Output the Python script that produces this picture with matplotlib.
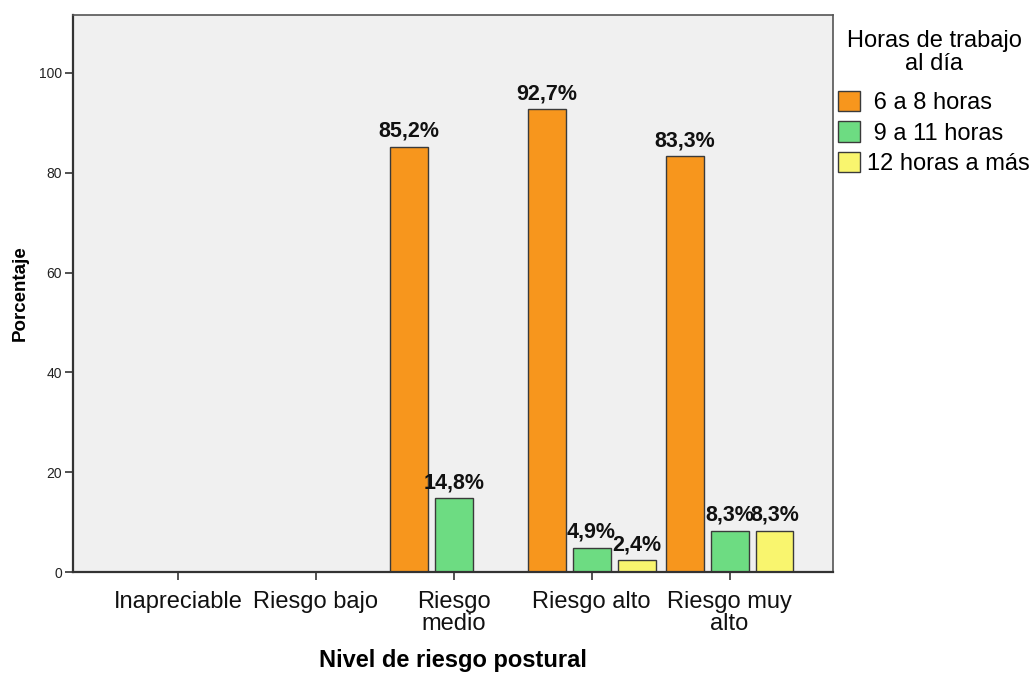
import numpy as np
import matplotlib
matplotlib.use("Agg")
import matplotlib.pyplot as plt

plt.rcParams['font.family'] = ['Liberation Sans', 'DejaVu Sans']

# niveles de riesgo y porcentajes por horas de trabajo
categorias = ['Inapreciable', 'Riesgo bajo', 'Riesgo\nmedio', 'Riesgo alto', 'Riesgo muy\nalto']
horas_6_8 = [0, 0, 85.2, 92.7, 83.3]
horas_9_11 = [0, 0, 14.8, 4.9, 8.3]
horas_12 = [0, 0, 0, 2.4, 8.3]
series = [' 6 a 8 horas', ' 9 a 11 horas', '12 horas a más']
colores = ['#f7961d', '#6ddc82', '#f9f56e']

fig = plt.figure(figsize=(10.34, 6.73), dpi=100)
ax = fig.add_axes([0.0706, 0.150, 0.7350, 0.8277])
ax.set_facecolor('#f0f0f0')

x = np.arange(len(categorias))
ancho = 0.275
desplaz = 0.326
for i, (vals, nombre, col) in enumerate(zip([horas_6_8, horas_9_11, horas_12], series, colores)):
    pos = x + (i - 1) * desplaz
    ax.bar(pos, vals, width=ancho, color=col, edgecolor='#3a3a3a', linewidth=1.0, label=nombre)
    for xp, v in zip(pos, vals):
        if v > 0:
            ax.text(xp, v + 1.0, f'{v:.1f}%'.replace('.', ','), ha='center', va='bottom',
                    fontsize=15.5, fontweight='bold', color='#111111')

ax.set_xlim(-0.76, 4.75)
ax.set_ylim(0, 111.6)
ax.set_yticks([0, 20, 40, 60, 80, 100])
ax.set_xticks(x)
ax.set_xticklabels(categorias, fontsize=17, linespacing=1.0)
ax.tick_params(axis='y', labelsize=10, length=6, width=1.2, color='#333333', labelcolor='#222222', pad=2)
ax.tick_params(axis='x', length=6, width=1.2, color='#333333', labelcolor='#111111', pad=8)

for s in ax.spines.values():
    s.set_color('#555555')
    s.set_linewidth(1.2)
ax.spines['left'].set_color('#333333')
ax.spines['bottom'].set_color('#333333')
ax.spines['left'].set_linewidth(1.6)
ax.spines['bottom'].set_linewidth(1.6)

ax.set_ylabel('Porcentaje', fontsize=13.5, fontweight='bold', labelpad=7)
ax.set_xlabel('Nivel de riesgo postural', fontsize=17, fontweight='bold', labelpad=10)

# título de la leyenda aparte, centrado sobre las entradas
fig.text(0.9033, 0.922, 'Horas de trabajo\nal día', ha='center', va='center',
         fontsize=17, linespacing=1.05, multialignment='center')
leg = ax.legend(loc='upper left', bbox_to_anchor=(0.810, 0.865), bbox_transform=fig.transFigure,
                frameon=False, fontsize=17,
                handlelength=0.95, handleheight=0.95, handletextpad=0.3, labelspacing=0.3,
                borderpad=0, borderaxespad=0)

fig.savefig('out.png', dpi=100)
